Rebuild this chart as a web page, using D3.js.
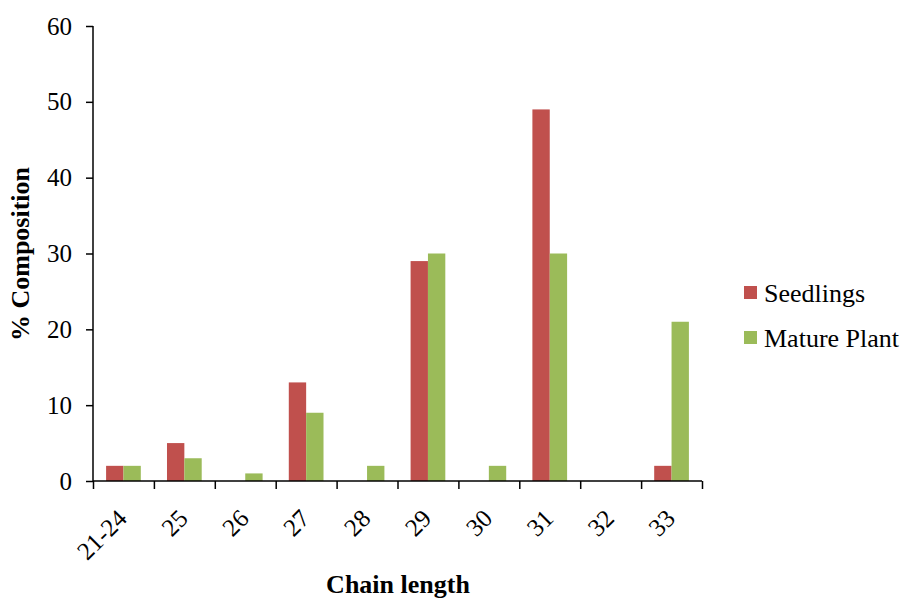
<!DOCTYPE html>
<html>
<head>
<meta charset="utf-8">
<script src="https://cdn.jsdelivr.net/npm/d3@7"></script>
<style>
  html, body { margin: 0; padding: 0; background: #fff; }
  svg { display: block; font-family: "Liberation Serif", "Times New Roman", serif; }
</style>
</head>
<body>
<svg id="chart" width="904" height="599"></svg>
<script>
// Chain-length distribution (% composition) for seedlings and mature plants
const categories = ["21-24", "25", "26", "27", "28", "29", "30", "31", "32", "33"];
const seriesNames = ["Seedlings", "Mature Plant"];
const seedlings = [2, 5, 0, 13, 0, 29, 0, 49, 0, 2];
const maturePlant = [2, 3, 1, 9, 2, 30, 2, 30, 0, 21];
const yTicks = [0, 10, 20, 30, 40, 50, 60];
const colors = ["#C0504D", "#9BBB59"];

const values = [seedlings, maturePlant];

const svg = d3.select("#chart");
const plotLeft = 93, plotRight = 702, plotTop = 26, plotBottom = 481;

const x = d3.scaleBand().domain(categories).range([plotLeft, plotRight]).paddingInner(0).paddingOuter(0);
const groupW = x.bandwidth() * 0.57;
const xs = d3.scaleBand().domain(seriesNames).range([0, groupW]);
const y = d3.scaleLinear().domain([0, 60]).range([plotBottom, plotTop]);
const color = d3.scaleOrdinal().domain(seriesNames).range(colors);

// bars
seriesNames.forEach((name, si) => {
  svg.append("g")
    .selectAll("rect")
    .data(categories.map((c, i) => ({ c, v: values[si][i] })))
    .join("rect")
    .attr("x", d => x(d.c) + (x.bandwidth() - groupW) / 2 + xs(name))
    .attr("width", xs.bandwidth())
    .attr("y", d => y(d.v))
    .attr("height", d => y(0) - y(d.v))
    .attr("fill", color(name));
});

// y axis
const yAxis = svg.append("g")
  .attr("transform", `translate(${plotLeft},0)`)
  .call(d3.axisLeft(y).tickValues(yTicks).tickSize(7).tickPadding(14).tickFormat(d3.format("d")));
yAxis.select(".domain").attr("stroke", "#000").attr("stroke-width", 1.5).attr("d", `M0,${plotTop}V${plotBottom}`);
yAxis.selectAll(".tick line").attr("stroke", "#000").attr("stroke-width", 1.5);
yAxis.selectAll(".tick text").attr("font-size", 25).attr("fill", "#000")
  .attr("font-family", "Liberation Serif, Times New Roman, serif");

// x axis: tick marks on category boundaries
const xb = d3.scaleLinear().domain([0, categories.length]).range([plotLeft, plotRight]);
const xTickAxis = svg.append("g")
  .attr("transform", `translate(0,${plotBottom})`)
  .call(d3.axisBottom(xb).ticks(categories.length).tickSize(8).tickFormat(""));
xTickAxis.select(".domain").attr("stroke", "#000").attr("stroke-width", 1.5).attr("d", `M${plotLeft},0H${plotRight}`);
xTickAxis.selectAll(".tick line").attr("stroke", "#000").attr("stroke-width", 1.5);

// x axis: rotated category labels
const xLab = svg.append("g")
  .attr("transform", `translate(0,${plotBottom})`)
  .call(d3.axisBottom(x).tickSize(0).tickPadding(0));
xLab.select(".domain").remove();
xLab.selectAll(".tick text")
  .attr("font-size", 25).attr("fill", "#000")
  .attr("font-family", "Liberation Serif, Times New Roman, serif")
  .attr("text-anchor", "end")
  .attr("dy", null)
  .attr("y", null)
  .attr("transform", "translate(5,39) rotate(-45)");

// axis titles
svg.append("text")
  .attr("x", 398).attr("y", 593)
  .attr("text-anchor", "middle")
  .attr("font-size", 26).attr("font-weight", "bold")
  .text("Chain length");

svg.append("text")
  .attr("transform", "translate(29,254) rotate(-90)")
  .attr("text-anchor", "middle")
  .attr("font-size", 26).attr("font-weight", "bold")
  .text("% Composition");

// legend
const legend = svg.append("g").selectAll("g").data(seriesNames).join("g")
  .attr("transform", (d, i) => `translate(744,${286 + i * 45})`);
legend.append("rect").attr("width", 13).attr("height", 13).attr("fill", d => color(d));
legend.append("text").attr("x", 20).attr("y", 16).attr("font-size", 26).text(d => d);
</script>
</body>
</html>
